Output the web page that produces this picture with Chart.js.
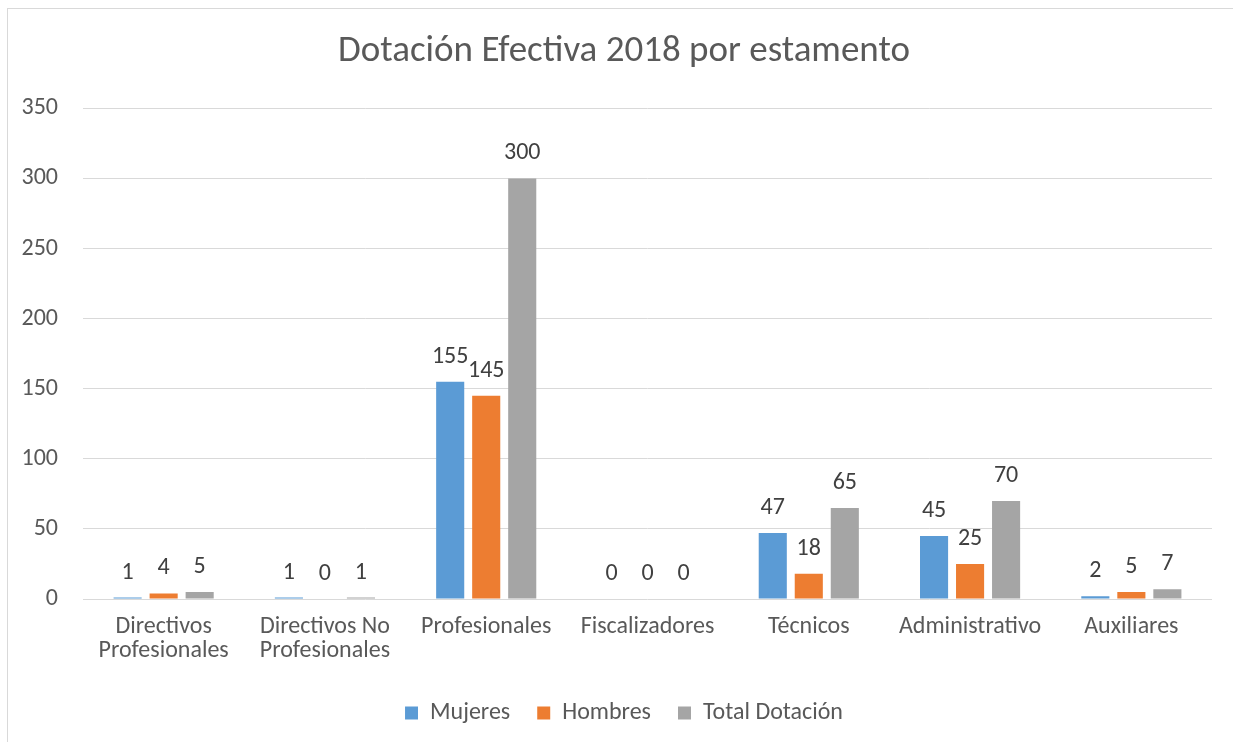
<!DOCTYPE html>
<html>
<head>
<meta charset="utf-8">
<script src="https://cdn.jsdelivr.net/npm/chart.js@4"></script>
<style>
  html,body{margin:0;padding:0;background:#fff;}
  #wrap{position:relative;width:1233px;height:742px;}
  #frame{position:absolute;left:7px;top:8px;width:1240px;height:750px;border:1px solid #d9d9d9;box-sizing:border-box;pointer-events:none;}
  canvas{position:absolute;left:0;top:0;}
</style>
</head>
<body>
<div id="wrap">
  <canvas id="c" width="1233" height="742"></canvas>
  <div id="frame"></div>
</div>
<script>
const categories = [["Directivos","Profesionales"],["Directivos No","Profesionales"],"Profesionales","Fiscalizadores","Técnicos","Administrativo","Auxiliares"];
const mujeres = [1, 1, 155, 0, 47, 45, 2];
const hombres = [4, 0, 145, 0, 18, 25, 5];
const totalDotacion = [5, 1, 300, 0, 65, 70, 7];
const yTicks = [0, 50, 100, 150, 200, 250, 300, 350];

const FONT = "Carlito, Calibri, Lato, 'Open Sans', sans-serif";

const valueLabels = {
  id: 'valueLabels',
  afterDatasetsDraw(chart) {
    const ctx = chart.ctx;
    ctx.save();
    ctx.font = "24px " + FONT;
    ctx.fillStyle = "#404040";
    ctx.textAlign = "center";
    ctx.textBaseline = "middle";
    chart.data.datasets.forEach((ds, i) => {
      const meta = chart.getDatasetMeta(i);
      meta.data.forEach((bar, j) => {
        ctx.fillText(String(ds.data[j]), bar.x, bar.y - 25);
      });
    });
    ctx.restore();
  }
};

new Chart(document.getElementById('c'), {
  type: 'bar',
  data: {
    labels: categories,
    datasets: [
      {label: 'Mujeres', data: mujeres, backgroundColor: '#5B9BD5'},
      {label: 'Hombres', data: hombres, backgroundColor: '#ED7D31'},
      {label: 'Total Dotación', data: totalDotacion, backgroundColor: '#A5A5A5'}
    ]
  },
  options: {
    responsive: false,
    animation: false,
    devicePixelRatio: 1,
    layout: {padding: {left: 0, right: -15, top: 0, bottom: 7}},
    datasets: {bar: {categoryPercentage: 0.67, barPercentage: 0.78}},
    plugins: {
      title: {
        display: true,
        text: 'Dotación Efectiva 2018 por estamento',
        color: '#595959',
        font: {family: FONT, size: 37, weight: 'normal', lineHeight: 1.2},
        padding: {top: 30, bottom: 34}
      },
      legend: {
        position: 'bottom',
        labels: {
          color: '#595959',
          font: {family: FONT, size: 24},
          boxWidth: 13, boxHeight: 13,
          padding: 27
        }
      },
      tooltip: {enabled: false}
    },
    scales: {
      x: {
        grid: {display: false, drawTicks: false},
        border: {display: false},
        ticks: {color: '#595959', font: {family: FONT, size: 24, lineHeight: 1.0}, padding: 16, maxRotation: 0, autoSkip: false},
        afterFit(s) { s.height = 75; }
      },
      y: {
        min: 0, max: 350,
        afterBuildTicks(s) { s.ticks = yTicks.map(v => ({value: v})); },
        grid: {color: '#d9d9d9', lineWidth: 1, drawTicks: false},
        border: {display: false},
        ticks: {color: '#595959', font: {family: FONT, size: 24}, padding: 25},
        afterFit(s) { s.width = 83; }
      },
      yRightSpacer: {
        type: 'linear',
        position: 'right',
        display: true,
        grid: {display: false, drawTicks: false},
        border: {display: false},
        ticks: {display: false},
        afterFit(s) { s.width = 36; }
      }
    }
  },
  plugins: [valueLabels]
});
</script>
</body>
</html>
